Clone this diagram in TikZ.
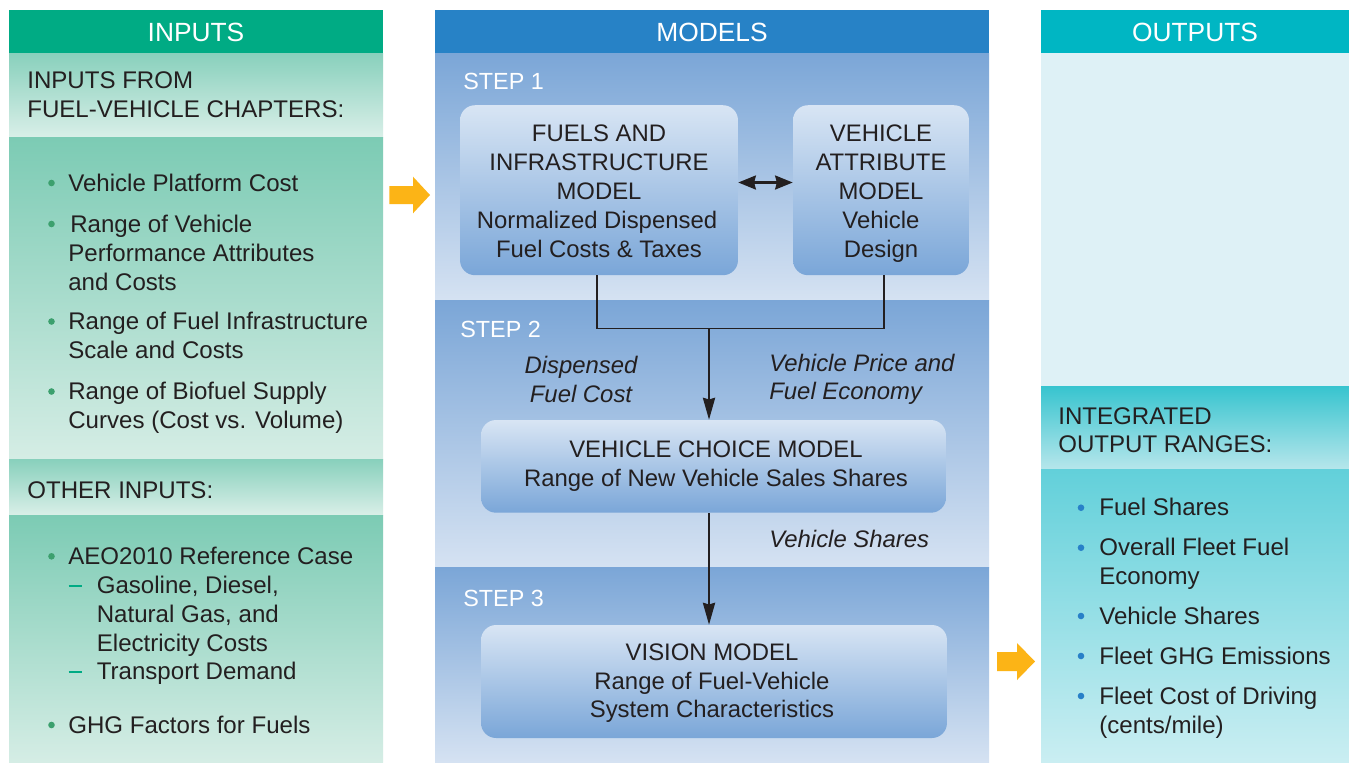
\documentclass[tikz,border=0pt]{standalone}
\usepackage{fontspec}
\setmainfont{Liberation Sans}
\usetikzlibrary{arrows.meta}
\definecolor{txtc}{RGB}{35,31,32}
\definecolor{ingreen}{RGB}{0,171,132}
\definecolor{modblue}{RGB}{39,130,198}
\definecolor{outcyan}{RGB}{0,182,195}
\definecolor{insubtop}{RGB}{136,208,188}
\definecolor{insubbot}{RGB}{217,239,232}
\definecolor{inbodytop}{RGB}{124,203,180}
\definecolor{inbodybot}{RGB}{213,237,229}
\definecolor{paneltop}{RGB}{123,166,215}
\definecolor{panelbot}{RGB}{213,226,242}
\definecolor{boxtop}{RGB}{216,229,244}
\definecolor{boxbot}{RGB}{122,166,216}
\definecolor{outupper}{RGB}{222,241,246}
\definecolor{outsubtop}{RGB}{55,196,207}
\definecolor{outsubbot}{RGB}{182,230,235}
\definecolor{outbodytop}{RGB}{98,208,218}
\definecolor{outbodybot}{RGB}{202,238,242}
\definecolor{arrorange}{RGB}{252,180,22}
\definecolor{dotgreen}{RGB}{60,160,110}
\definecolor{dotblue}{RGB}{40,128,200}
\tikzset{
  hdr/.style={text=white, font=\fontsize{15}{18}\selectfont, inner sep=0pt, anchor=base},
  lt/.style={text=txtc, font=\fontsize{13.7}{16}\selectfont, inner sep=0pt, anchor=base west},
  steplbl/.style={text=white, font=\fontsize{13.3}{16}\selectfont, inner sep=0pt, anchor=base west},
  bt/.style={text=txtc, font=\fontsize{13.6}{16}\selectfont, inner sep=0pt, anchor=base},
  it/.style={text=txtc, font=\fontsize{13.6}{16}\selectfont\itshape, inner sep=0pt},
  mbox/.style={rounded corners=0.3cm, top color=boxtop, bottom color=boxbot, draw=none, inner sep=0pt},
  conn/.style={draw=txtc, line width=0.9pt},
  tip/.style={-{Stealth[length=12.5pt,width=7pt,inset=1pt]}},
  dtip/.style={{Stealth[length=10pt,width=8pt,inset=1pt]}-{Stealth[length=10pt,width=8pt,inset=1pt]}},
}
\begin{document}
\begin{tikzpicture}[x=0.02cm,y=-0.02cm]
\useasboundingbox (0,0) rectangle (1349,762);
\fill[white] (0,0) rectangle (1349,762);
% ---------- INPUTS column ----------
\fill[ingreen] (9,10) rectangle (383,53);
\shade[top color=insubtop, bottom color=insubbot] (9,53) rectangle (383,137);
\shade[top color=inbodytop, bottom color=inbodybot] (9,137) rectangle (383,459);
\shade[top color=insubtop, bottom color=insubbot] (9,459) rectangle (383,515);
\shade[top color=inbodytop, bottom color=inbodybot] (9,515) rectangle (383,762);
\node[hdr] (hin) at (196,41.7) {INPUTS};
\node[lt] (a1) at (27,88) {INPUTS FROM};
\node[lt] (a2) at (27,117) {FUEL-VEHICLE CHAPTERS:};
\foreach \yy in {191,232,329.5,399.5,564.3,733}
  \fill[dotgreen] (51.5,\yy-8) circle (3.3);
\node[lt] (b1) at (68,191) {Vehicle Platform Cost};
\node[lt] (b2) at (70,232) {Range of Vehicle};
\node[lt] (b3) at (68,261) {Performance Attributes};
\node[lt] (b4) at (68,290) {and Costs};
\node[lt] (b5) at (68,329.5) {Range of Fuel Infrastructure};
\node[lt] (b6) at (68,358.5) {Scale and Costs};
\node[lt] (b7) at (68,399.5) {Range of Biofuel Supply};
\node[lt] (b8) at (68,428.5) {Curves (Cost vs. Volume)};
\node[lt] (c0) at (27,498.3) {OTHER INPUTS:};
\node[lt] (c1) at (68,564.3) {AEO2010 Reference Case};
\draw[ingreen, line width=1.1pt] (68.5,586) -- (82,586);
\draw[ingreen, line width=1.1pt] (68.5,672.3) -- (82,672.3);
\node[lt] (c2) at (96.5,593.3) {Gasoline, Diesel,};
\node[lt] (c3) at (96.5,622) {Natural Gas, and};
\node[lt] (c4) at (96.5,651) {Electricity Costs};
\node[lt] (c5) at (96.5,679.5) {Transport Demand};
\node[lt] (c6) at (68,733) {GHG Factors for Fuels};
% ---------- orange arrows ----------
\fill[arrorange] (389.3,186) -- (413,186) -- (413,176.7) -- (430,195) -- (413,213.3) -- (413,204) -- (389.3,204) -- cycle;
\fill[arrorange] (997,652) -- (1017,652) -- (1017,643) -- (1035,661.5) -- (1017,680) -- (1017,671) -- (997,671) -- cycle;
% ---------- MODELS column ----------
\fill[modblue] (435,10) rectangle (989,53);
\shade[top color=paneltop, bottom color=panelbot] (435,53) rectangle (989,300);
\shade[top color=paneltop, bottom color=panelbot] (435,300) rectangle (989,567);
\shade[top color=paneltop, bottom color=panelbot] (435,567) rectangle (989,762);
\node[hdr] (hmod) at (712,41.7) {MODELS};
\node[steplbl] (s1) at (463,89.3) {STEP 1};
\node[steplbl] (s2) at (460,337.3) {STEP 2};
\node[steplbl] (s3) at (463,606) {STEP 3};
\node[mbox, minimum width=5.56cm, minimum height=3.40cm] (fuels) at (599,190.2) {};
\node[mbox, minimum width=3.52cm, minimum height=3.40cm] (attr) at (881,190.2) {};
\node[mbox, minimum width=9.30cm, minimum height=1.854cm] (choice) at (713.5,466.35) {};
\node[mbox, minimum width=9.32cm, minimum height=2.26cm] (vision) at (714,681.5) {};
\node[bt] (f1) at (599,141) {FUELS AND};
\node[bt] (f2) at (599,170.3) {INFRASTRUCTURE};
\node[bt] (f3) at (599,199.3) {MODEL};
\node[bt] (f4) at (597,228.3) {Normalized Dispensed};
\node[bt] (f5) at (599,257.3) {Fuel Costs \& Taxes};
\node[bt] (v1) at (881,141) {VEHICLE};
\node[bt] (v2) at (881,170.3) {ATTRIBUTE};
\node[bt] (v3) at (881,199.3) {MODEL};
\node[bt] (v4) at (881,228.3) {Vehicle};
\node[bt] (v5) at (881,257.3) {Design};
\node[bt] (ch1) at (716,457.7) {VEHICLE CHOICE MODEL};
\node[bt] (ch2) at (716,486.7) {Range of New Vehicle Sales Shares};
\node[bt] (vi1) at (712,660) {VISION MODEL};
\node[bt] (vi2) at (712,689) {Range of Fuel-Vehicle};
\node[bt] (vi3) at (712,717.7) {System Characteristics};
\node[it, anchor=base] (l1) at (581,373.3) {Dispensed};
\node[it, anchor=base] (l2) at (581,402.7) {Fuel Cost};
\node[it, anchor=base west] (l3) at (769,371) {Vehicle Price and};
\node[it, anchor=base west] (l4) at (769,399.3) {Fuel Economy};
\node[it, anchor=base west] (l5) at (769,547.7) {Vehicle Shares};
% connectors
\coordinate (j) at (709,328.3);
\coordinate (fb) at (597,275);
\coordinate (ab) at (884,275);
\draw[conn] (fb) |- (j) -| (ab);
\draw[conn, tip] (j) -- (j |- choice.north);
\draw[conn, tip] (j |- choice.south) -- (j |- vision.north);
\draw[conn, line width=1.2pt, dtip] (fuels.east |- 0,182.5) -- (attr.west |- 0,182.5);
% ---------- OUTPUTS column ----------
\fill[outcyan] (1041,10) rectangle (1349,53);
\fill[outupper] (1041,53) rectangle (1349,386);
\shade[top color=outsubtop, bottom color=outsubbot] (1041,386) rectangle (1349,469);
\shade[top color=outbodytop, bottom color=outbodybot] (1041,469) rectangle (1349,762);
\node[hdr] (hout) at (1195,41.7) {OUTPUTS};
\node[lt] (d1) at (1058,424) {INTEGRATED};
\node[lt] (d2) at (1058,452.7) {OUTPUT RANGES:};
\foreach \yy in {515.7,555.7,624,664,704}
  \fill[dotblue] (1081,\yy-8) circle (3.3);
\node[lt] (e1) at (1099,515.7) {Fuel Shares};
\node[lt] (e2) at (1099,555.7) {Overall Fleet Fuel};
\node[lt] (e3) at (1099,584.5) {Economy};
\node[lt] (e4) at (1099,624) {Vehicle Shares};
\node[lt] (e5) at (1099,664) {Fleet GHG Emissions};
\node[lt] (e6) at (1099,704) {Fleet Cost of Driving};
\node[lt] (e7) at (1099,733) {(cents/mile)};
\end{tikzpicture}
\end{document}
